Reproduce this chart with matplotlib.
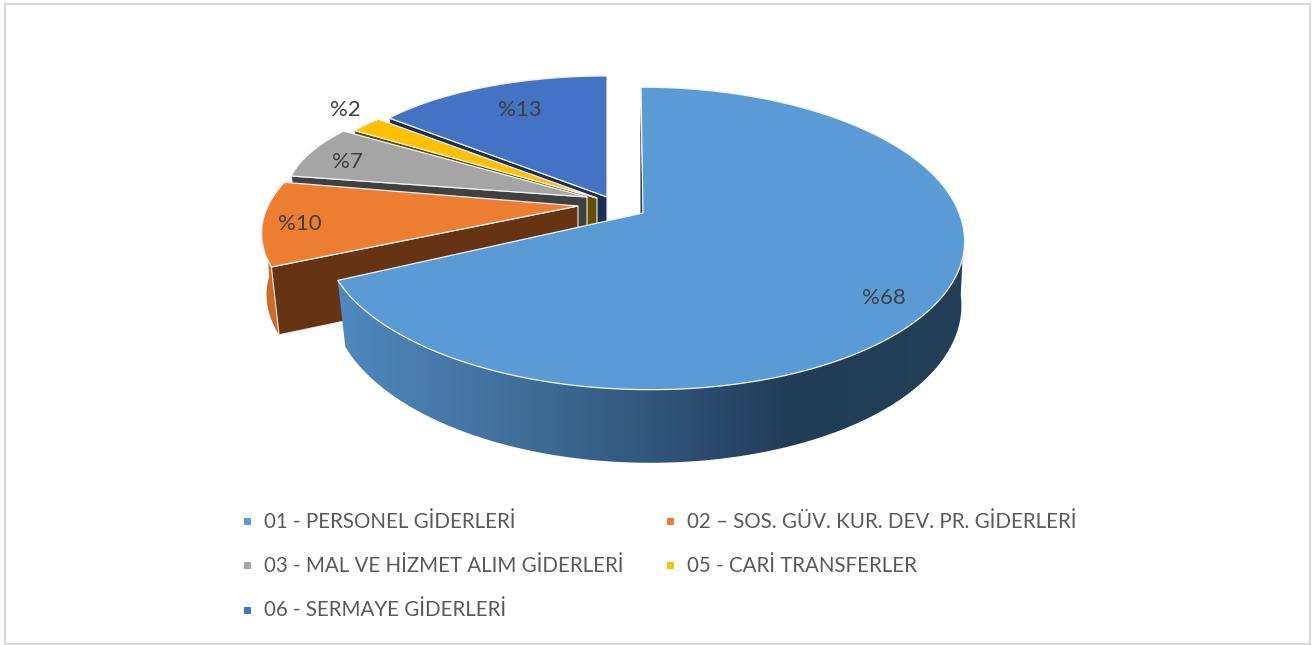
import numpy as np
import matplotlib
matplotlib.use("Agg")
import matplotlib.pyplot as plt
from matplotlib.colors import LinearSegmentedColormap
from matplotlib.patches import Polygon, Rectangle

plt.rcParams["font.family"] = ["Lato", "DejaVu Sans"]

# data
categories = ["01 - PERSONEL GİDERLERİ", "02 – SOS. GÜV. KUR. DEV. PR. GİDERLERİ",
              "03 - MAL VE HİZMET ALIM GİDERLERİ", "05 - CARİ TRANSFERLER",
              "06 - SERMAYE GİDERLERİ"]
values = [68, 10, 7, 2, 13]
value_labels = ["%68", "%10", "%7", "%2", "%13"]

# look of each slice
top_colors = ["#5b9bd5", "#ed7d31", "#a5a5a5", "#ffc000", "#4472c4"]
wall_colors = ["#254061", "#663313", "#404040", "#665000", "#1b2f55"]
# apex x, apex y, radius x, radius y, perspective, depth
slice_geom = [(643, 213, 316, 147, 0.168, 62.5),
              (578, 206, 310, 131, 0.20, 66),
              (587, 197, 301, 112, 0.0, 66),
              (597, 198, 300, 115, 0.0, 66),
              (607, 197, 271, 104.6, -0.136, 66)]
label_pos = [(884, 298), (300, 224), (347, 162), (345, 110), (520, 110)]
legend_pos = [(247, 521), (670, 521), (247, 565), (670, 565), (247, 610)]

edges = np.cumsum([0] + values) * 3.6


def top_pts(i, theta):
    cx, cy, b, a, k, d = slice_geom[i]
    th = np.radians(theta)
    x, y = np.sin(th), -np.cos(th)
    den = 1 - k * y
    px, py = cx + b * x / den, cy + a * y / den
    if i == 0:
        # the big slice leans a little
        px = px + np.where(py > cy, 0.04, 0.016) * (py - cy)
    return px, py


def base_pts(i, theta):
    cx, cy, b, a, k, d = slice_geom[i]
    xt, yt = top_pts(i, theta)
    if i == 0:
        return cx + (xt - cx) * np.where(xt > cx, 0.99, 0.975), cy + d + (yt - cy) * 1.06
    if i == 1:
        sc = np.interp(theta, [edges[1], 268], [0.975, 0.99])
        return cx + (xt - cx) * sc, cy + d + (yt - cy) * 1.03
    return cx + (xt - cx) * 0.975, cy + d + (yt - cy) * 1.03


fig = plt.figure(figsize=(13.14, 6.45), dpi=100)
ax = fig.add_axes([0, 0, 1, 1])
ax.set_xlim(0, 1314)
ax.set_ylim(645, 0)
ax.axis("off")

ax.add_patch(Rectangle((4.5, 4), 1305, 640, fc="white", ec="#d9d9d9", lw=1.6))

# back slices first, the big one last
for i in [4, 3, 2, 1, 0]:
    start, end = edges[i], edges[i + 1]
    th = np.linspace(start, end, 160)
    tx, ty = top_pts(i, th)
    cx, cy = slice_geom[i][:2]
    depth = slice_geom[i][5]

    if i == 0:
        # curved side with the shading running left to right
        vis = th[(th >= 96)]
        bx, by = base_pts(i, vis)
        tvx, tvy = top_pts(i, vis)
        wall = Polygon(np.r_[np.c_[tvx, tvy], np.c_[bx, by][::-1]], fc="none", ec="none")
        ax.add_patch(wall)
        cmap = LinearSegmentedColormap.from_list("side", [(0, "#5088bd"), (0.3, "#3f6d98"),
                                                          (0.6, "#2a4a6c"), (0.72, "#213c55"), (1, "#244058")])
        grad = np.linspace(0, 1, 640).reshape(1, -1)
        im = ax.imshow(grad, cmap=cmap, extent=(338, 966, 480, 230), aspect="auto", zorder=2)
        im.set_clip_path(wall)
        ax.set_xlim(0, 1314)
        ax.set_ylim(645, 0)
        # thin dark edge along the cut at the top of the slice
        ex, ey = top_pts(0, 0.0)
        ax.add_patch(Polygon([(ex + (cx - ex) * 0.12 - 1, ey + (cy - ey) * 0.12), (cx, cy), (cx - 2.5, cy)],
                             fc="#254061", ec="none", zorder=2))
    else:
        # flat cut side facing the viewer
        ex, ey = top_pts(i, start)
        fx, fy = base_pts(i, start)
        if i == 1:
            # curved side of the orange slice
            vis = th[th <= 268]
            bx, by = base_pts(i, vis)
            vx, vy = top_pts(i, vis)
            ax.add_patch(Polygon(np.r_[np.c_[vx, vy], np.c_[bx, by][::-1]],
                                 fc="#cc6c2a", ec="none", zorder=2))
        ax.add_patch(Polygon([(cx, cy), (ex, ey), (fx, fy), (cx, cy + depth)],
                             fc=wall_colors[i], ec="#ececec", lw=0.8, zorder=2))

    ax.add_patch(Polygon(np.r_[[[cx, cy]], np.c_[tx, ty]], fc=top_colors[i], ec="#f2f2f2",
                         lw=0.9, joinstyle="miter", zorder=2))

for lab, (x, y) in zip(value_labels, label_pos):
    ax.text(x, y, lab, ha="center", va="center", fontsize=16, color="#404040", zorder=3)

for name, col, (x, y) in zip(categories, top_colors, legend_pos):
    ax.add_patch(Rectangle((x - 3.5, y - 3.5), 7, 7, fc=col, ec="none"))
    ax.text(x + 17, y + 0.5, name, ha="left", va="center", fontsize=14.8, color="#595959")

fig.savefig("out.png", dpi=100)
